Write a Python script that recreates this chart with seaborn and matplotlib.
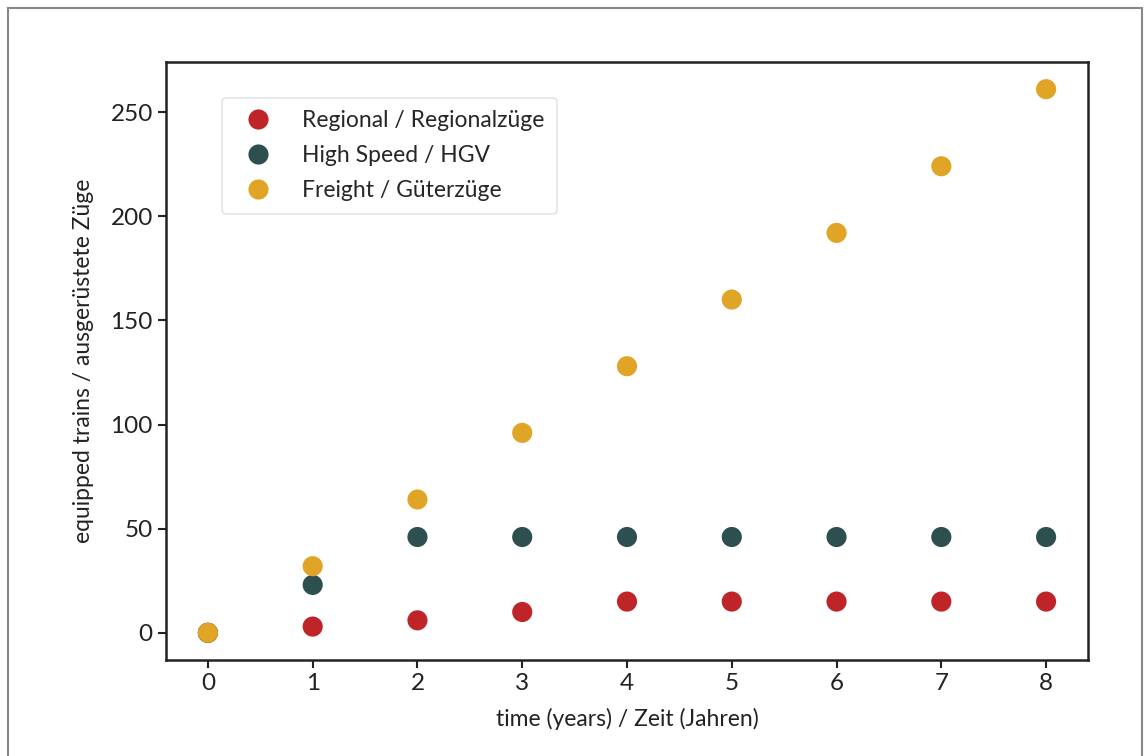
import matplotlib
matplotlib.use("Agg")
import matplotlib.pyplot as plt
import seaborn as sns
import pandas as pd
from matplotlib.patches import Rectangle

years = [0, 1, 2, 3, 4, 5, 6, 7, 8]
regional = [0, 3, 6, 10, 15, 15, 15, 15, 15]
high_speed = [0, 23, 46, 46, 46, 46, 46, 46, 46]
freight = [0, 32, 64, 96, 128, 160, 192, 224, 261]

series_names = ["Regional / Regionalzüge", "High Speed / HGV", "Freight / Güterzüge"]
colors = ["#BF2429", "#2D4F4F", "#E0A526"]

df = pd.concat([
    pd.DataFrame({"year": years, "trains": regional, "type": series_names[0]}),
    pd.DataFrame({"year": years, "trains": high_speed, "type": series_names[1]}),
    pd.DataFrame({"year": years, "trains": freight, "type": series_names[2]}),
])

sns.set_style("ticks")
plt.rcParams["font.family"] = ["Lato", "DejaVu Sans"]

fig = plt.figure(figsize=(11.44, 7.56), dpi=100)
ax = fig.add_axes([166 / 1144, 1 - 660 / 756, (1088 - 166) / 1144, (660 - 62) / 756])

sns.scatterplot(data=df, x="year", y="trains", hue="type", palette=colors,
                s=210, linewidth=0, ax=ax)

ax.set_xticks(years)
ax.set_yticks([0, 50, 100, 150, 200, 250])
ax.tick_params(labelsize=17.5, length=6, width=1.5, colors="#222222")
ax.set_xlabel("time (years) / Zeit (Jahren)", fontsize=16.5, color="#222222", labelpad=10)
ax.set_ylabel("equipped trains / ausgerüstete Züge", fontsize=16.5, color="#222222", labelpad=12)
for sp in ax.spines.values():
    sp.set_linewidth(1.8)
    sp.set_color("#222222")

leg = ax.legend(loc="upper left", bbox_to_anchor=(0.061, 0.94), fontsize=16.5,
                markerscale=1.0, handletextpad=0.95, borderpad=0.55,
                labelspacing=0.6, borderaxespad=0, frameon=True)
leg.get_frame().set_edgecolor("#dddddd")
leg.get_frame().set_linewidth(1.2)

fig.patches.append(Rectangle((8 / 1144, -0.1), (1142 - 8) / 1144, 1.1 - 8 / 756,
                             transform=fig.transFigure, fill=False,
                             edgecolor="#888888", linewidth=1.5))

fig.savefig("out.png", dpi=100)
